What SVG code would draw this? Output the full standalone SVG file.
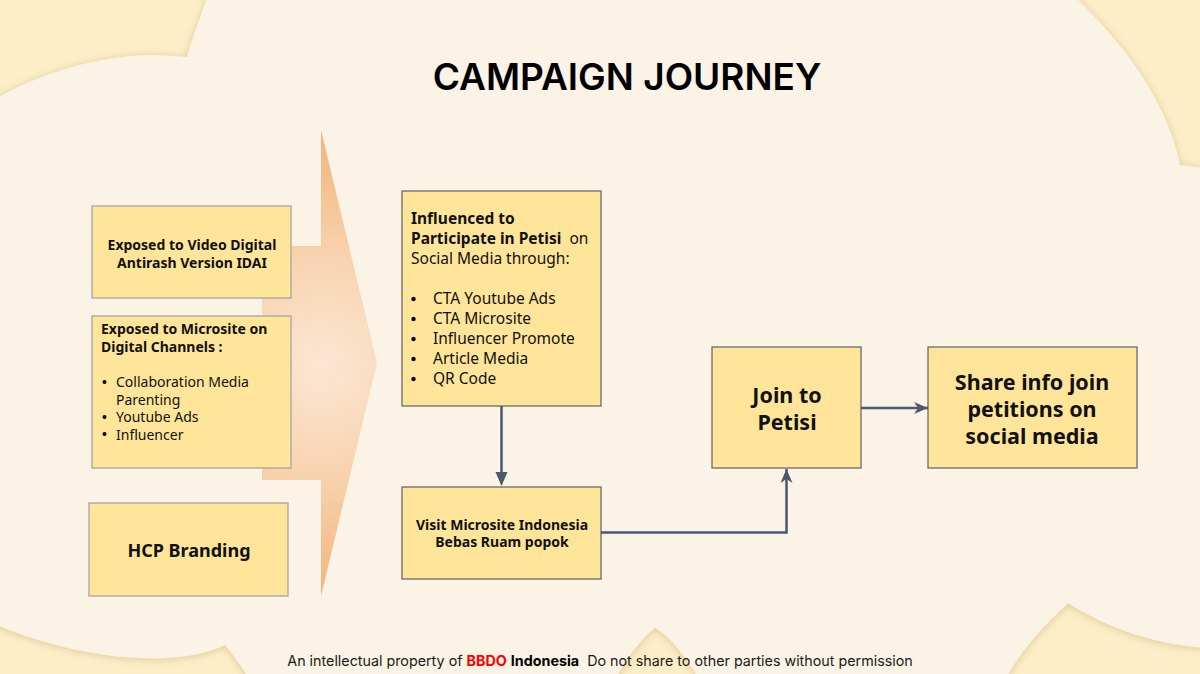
<svg xmlns="http://www.w3.org/2000/svg" width="1200" height="674" viewBox="0 0 1200 674">
  <defs>
    <style>
      .box-a { fill: #FFE599; stroke: #A5A5A5; stroke-width: 1.3; }
      .box-b { fill: #FFE599; stroke: #6B6B6B; stroke-width: 1.3; }
      .t { font-family: "Noto Sans", Lato, sans-serif; fill: #111; white-space: pre; }
      .b { font-weight: 700; }
      .c { text-anchor: middle; }
      .link { fill: none; stroke: #4A5870; stroke-width: 2.5; }
    </style>
    <radialGradient id="arrowFill" cx="322" cy="365" r="240" gradientUnits="userSpaceOnUse">
      <stop offset="0" stop-color="#FBE7D4"/>
      <stop offset="0.45" stop-color="#F8D3B0"/>
      <stop offset="1" stop-color="#F2B276"/>
    </radialGradient>
    <filter id="cloudShadow" x="-5%" y="-5%" width="110%" height="110%">
      <feDropShadow dx="0" dy="1" stdDeviation="4" flood-color="#B89A55" flood-opacity="0.45"/>
    </filter>
    <marker id="stealth" viewBox="0 0 14 12" refX="14" refY="6" markerUnits="userSpaceOnUse" markerWidth="14" markerHeight="12" orient="auto">
      <path d="M0 0 L14 6 L0 12 L4 6 Z" fill="#4A5870"/>
    </marker>
  </defs>

  <!-- backdrop -->
  <rect x="0" y="0" width="1200" height="674" fill="#FDEEC8"/>
  <path id="cloud" filter="url(#cloudShadow)" fill="#FAF3E6"
        d="M-10 102 C 40 72, 100 56, 150 55 C 163 55, 176 56, 187 57
           C 192 38, 200 18, 210 -10 L 1068 -10
           C 1110 30, 1165 90, 1180 165 C 1188 166, 1195 167, 1210 168
           L 1210 648 C 1160 646, 1110 630, 1068 603
           C 1045 625, 1020 650, 1003 684 L 702 684
           C 688 660, 672 638, 655 628 C 640 640, 625 660, 613 684
           L 252 684 C 245 672, 236 658, 225 645
           C 180 668, 80 662, -10 622 Z"/>

  <text x="627" y="90" text-anchor="middle" font-family="Inter, 'Open Sans', sans-serif" font-weight="600" font-size="37" fill="#000">CAMPAIGN JOURNEY</text>

  <!-- big arrow behind the first column -->
  <path id="stage-arrow" d="M262 246 L321 246 L321 130 L377 363 L321 596 L321 480 L262 480 Z" fill="url(#arrowFill)"/>

  <g id="exposed-video">
    <rect class="box-a" x="92" y="206" width="199" height="92"/>
    <text class="t b c" x="192" y="250" font-size="14">Exposed to Video Digital</text>
    <text class="t b c" x="192" y="268" font-size="14">Antirash Version IDAI</text>
  </g>

  <g id="exposed-microsite">
    <rect class="box-a" x="92" y="316" width="199" height="152"/>
    <text class="t b" x="101" y="334" font-size="14">Exposed to Microsite on</text>
    <text class="t b" x="101" y="352" font-size="14">Digital Channels :</text>
    <g font-size="14">
      <circle cx="104.5" cy="382" r="2"/>
      <text class="t" x="116" y="387">Collaboration Media</text>
      <text class="t" x="116" y="404.5">Parenting</text>
      <circle cx="104.5" cy="417" r="2"/>
      <text class="t" x="116" y="422">Youtube Ads</text>
      <circle cx="104.5" cy="434" r="2"/>
      <text class="t" x="116" y="439.5">Influencer</text>
    </g>
  </g>

  <g id="hcp-branding">
    <rect class="box-a" x="89" y="503" width="199" height="93"/>
    <text class="t b c" x="189" y="557" font-size="18">HCP Branding</text>
  </g>

  <g id="influenced">
    <rect class="box-b" x="402" y="191" width="199" height="215"/>
    <text class="t b" x="411" y="224" font-size="15.5">Influenced to</text>
    <text class="t" x="411" y="244" font-size="15.5"><tspan class="b">Participate in Petisi</tspan>  on</text>
    <text class="t" x="411" y="264" font-size="15.5">Social Media through:</text>
    <g font-size="15.5">
      <circle cx="413.5" cy="299" r="2.2"/>
      <text class="t" x="433" y="304">CTA Youtube Ads</text>
      <circle cx="413.5" cy="319" r="2.2"/>
      <text class="t" x="433" y="324">CTA Microsite</text>
      <circle cx="413.5" cy="339" r="2.2"/>
      <text class="t" x="433" y="344">Influencer Promote</text>
      <circle cx="413.5" cy="359" r="2.2"/>
      <text class="t" x="433" y="364">Article Media</text>
      <circle cx="413.5" cy="379" r="2.2"/>
      <text class="t" x="433" y="384">QR Code</text>
    </g>
  </g>

  <g id="visit-microsite">
    <rect class="box-b" x="402" y="487" width="199" height="92"/>
    <text class="t b c" x="502" y="530" font-size="14">Visit Microsite Indonesia</text>
    <text class="t b c" x="502" y="547" font-size="14">Bebas Ruam popok</text>
  </g>

  <g id="join-petisi">
    <rect class="box-b" x="712" y="347" width="149" height="121"/>
    <text class="t b c" x="787" y="403" font-size="21.5">Join to</text>
    <text class="t b c" x="787" y="430" font-size="21.5">Petisi</text>
  </g>

  <g id="share-info">
    <rect class="box-b" x="928" y="347" width="209" height="121"/>
    <text class="t b c" x="1032" y="390" font-size="21.5">Share info join</text>
    <text class="t b c" x="1032" y="417" font-size="21.5">petitions on</text>
    <text class="t b c" x="1032" y="444" font-size="21.5">social media</text>
  </g>

  <g id="connectors">
    <path class="link" d="M501.5 406 L501.5 474"/>
    <path d="M495.5 472 L507.5 472 L501.5 486 Z" fill="#4A5870"/>
    <path class="link" d="M601 532.5 L786.5 532.5 L786.5 469" marker-end="url(#stealth)"/>
    <path class="link" d="M861 408 L928 408" marker-end="url(#stealth)"/>
  </g>

  <text x="600" y="666" text-anchor="middle" font-family="Inter, 'Open Sans', sans-serif" font-size="14.3" fill="#1A1A1A" style="white-space: pre">An intellectual property of <tspan font-weight="700" fill="#FF0000">BBDO</tspan> <tspan font-weight="700" fill="#000">Indonesia</tspan>  Do not share to other parties without permission</text>
</svg>
